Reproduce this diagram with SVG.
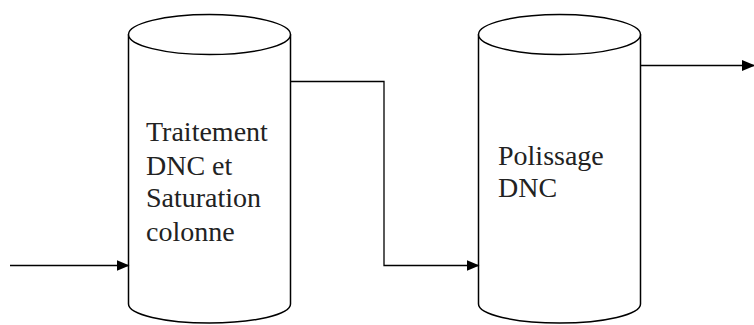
<svg xmlns="http://www.w3.org/2000/svg" width="754" height="325" viewBox="0 0 754 325">
<style>
.shape{fill:#fff;stroke:#000;stroke-width:1.5}
.line{fill:none;stroke:#000;stroke-width:1.3}
.lbl{font-family:'Liberation Serif','Times New Roman',serif;font-size:28px;fill:#222}
</style>
<defs>
<marker id="arr" markerWidth="13" markerHeight="11" refX="12" refY="5.5" orient="auto" markerUnits="userSpaceOnUse">
<path d="M0,0 L13,5.5 L0,11 Z" fill="#000"/>
</marker>
</defs>
<rect width="754" height="325" fill="#fff"/>
<g id="node-traitement">
<path class="shape" d="M128.5,34.5 L128.5,304 A81,19 0 0 0 290.5,304 L290.5,34.5"/>
<ellipse class="shape" cx="209.5" cy="34.5" rx="81" ry="20"/>
<text class="lbl" x="146" y="141">Traitement</text>
<text class="lbl" x="146" y="175">DNC et</text>
<text class="lbl" x="146" y="207">Saturation</text>
<text class="lbl" x="146" y="241">colonne</text>
</g>
<g id="node-polissage">
<path class="shape" d="M478.5,34.5 L478.5,304 A81,19 0 0 0 640.5,304 L640.5,34.5"/>
<ellipse class="shape" cx="559.5" cy="34.5" rx="81" ry="20"/>
<text class="lbl" x="498" y="165">Polissage</text>
<text class="lbl" x="498" y="197">DNC</text>
</g>
<g id="connectors">
<path class="line" d="M10,265.5 L128.5,265.5" marker-end="url(#arr)"/>
<path class="line" d="M290.5,81.5 L384,81.5 L384,265.5 L478.5,265.5" marker-end="url(#arr)"/>
<path class="line" d="M641,65.5 L754,65.5" marker-end="url(#arr)"/>
</g>
</svg>
